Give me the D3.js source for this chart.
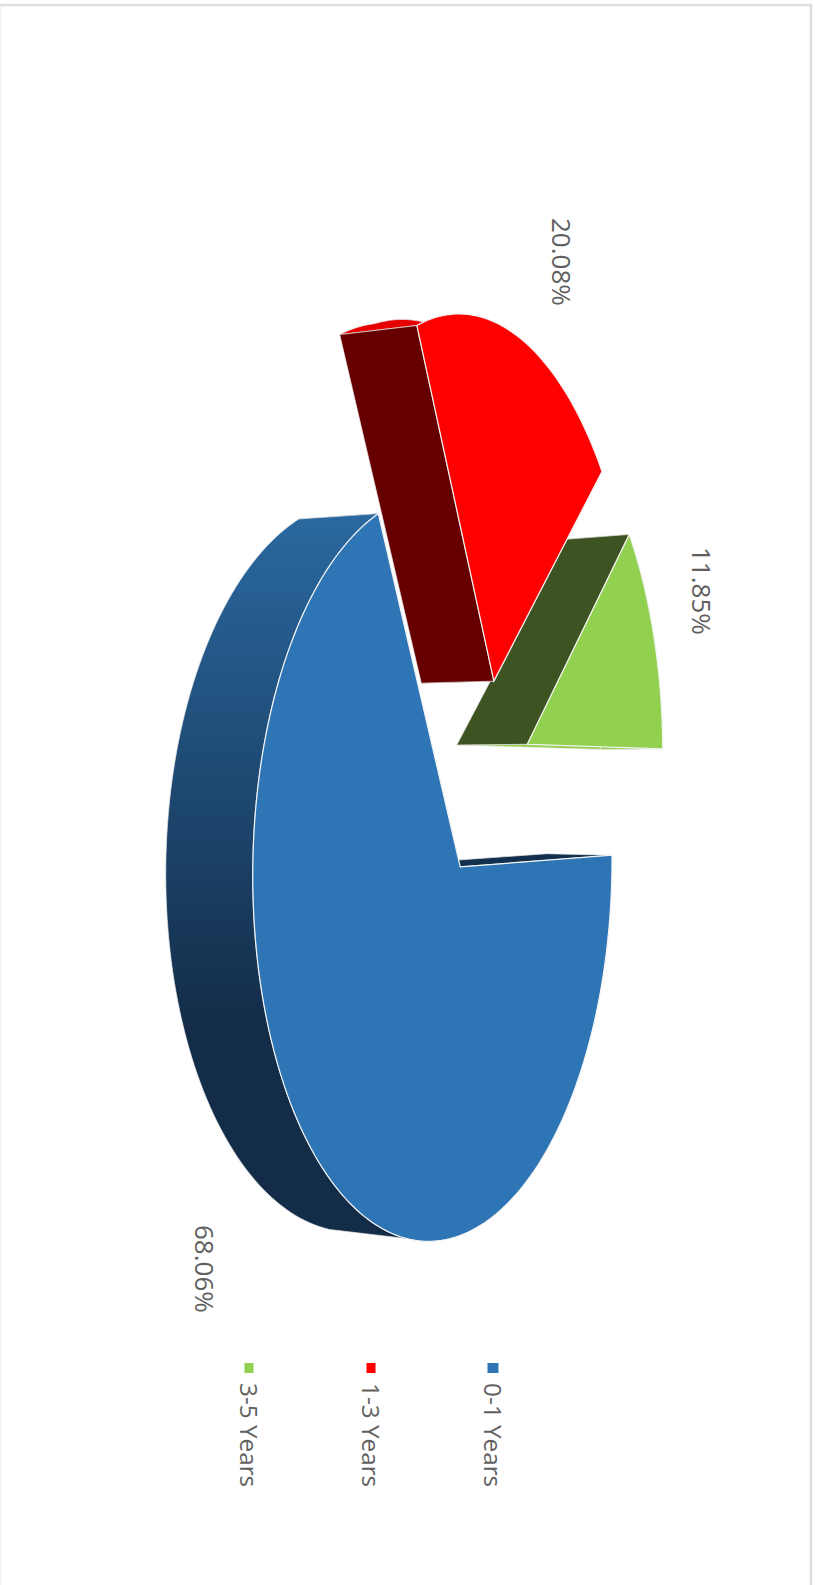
<!DOCTYPE html>
<html>
<head>
<meta charset="utf-8">
<script src="https://cdn.jsdelivr.net/npm/d3@7"></script>
<style>
  html, body { margin: 0; padding: 0; background: #fff; }
  svg { display: block; }
  text { font-family: "Open Sans", sans-serif; fill: #606060; }
</style>
</head>
<body>
<script>
const categories = ["0-1 Years", "1-3 Years", "3-5 Years"];
const shares = [68.06, 20.08, 11.85];
const shareLabels = ["68.06%", "20.08%", "11.85%"];
const faceColors = ["#2e75b6", "#ff0000", "#92d050"];
const wallColors = ["#12304e", "#660000", "#3d5321"];
const rimColors = ["url(#blueWall)", "#e60000", "#92d050"];

const width = 815, height = 1585;
const svg = d3.select("body").append("svg").attr("width", width).attr("height", height);

// frame of the chart area
svg.append("rect").attr("x", 0).attr("y", 5).attr("width", 811).attr("height", 1585)
  .attr("fill", "#fff").attr("stroke", "#dedede").attr("stroke-width", 2.5);
svg.append("rect").attr("x", 0).attr("y", 6).attr("width", 1).attr("height", 1579).attr("fill", "#f2f2f2");

const grad = svg.append("defs").append("linearGradient").attr("id", "blueWall")
  .attr("gradientUnits", "userSpaceOnUse").attr("x1", 0).attr("x2", 0).attr("y1", 510).attr("y2", 1010);
grad.append("stop").attr("offset", 0).attr("stop-color", "#2a689f");
grad.append("stop").attr("offset", 1).attr("stop-color", "#132d49");

const chart = svg.append("g").attr("transform", "scale(1.0115)");

// pie plane -> screen, the chart was exported lying on its side with some perspective
function project(p, q) {
  const w = 1 + 0.155 * p + 0.005 * q;
  return [(455 + 243.8 * p + 6 * q) / w, (857 + 117 * p + 369 * q) / w];
}
// pie thickness, a bit larger on the left of the picture
function drop(pt) {
  return [pt[0] - 74 + (pt[0] - 450) * 0.06, pt[1] + (772 - pt[1]) * 0.02];
}

const slices = d3.pie().sort(null)
  .startAngle(0.4 * Math.PI / 180)
  .endAngle(360.4 * Math.PI / 180)(shares);

const explode = 0.28;
const line = d3.line();
const first = slices[0];
const baseMid = (first.startAngle + first.endAngle) / 2;
// the outer wall only shows from here on, the lower edge of the big slice runs straight
const wallFrom = [108 * Math.PI / 180, 0, 0];
// the far rim of the red slice climbs towards the face instead of curling back
const rimLift = [0, 0.2, 0];

function rimPoints(d, from) {
  const mid = (d.startAngle + d.endAngle) / 2;
  const ox = explode * (Math.cos(mid) - Math.cos(baseMid));
  const oy = explode * (Math.sin(mid) - Math.sin(baseMid));
  const a0 = Math.max(d.startAngle, from);
  const n = Math.ceil((d.endAngle - a0) * 40);
  return d3.range(n + 1).map(i => {
    const a = a0 + (d.endAngle - a0) * i / n;
    return project(ox + Math.cos(a), oy + Math.sin(a));
  });
}
function apexPoint(d) {
  const mid = (d.startAngle + d.endAngle) / 2;
  return project(explode * (Math.cos(mid) - Math.cos(baseMid)), explode * (Math.sin(mid) - Math.sin(baseMid)));
}

// blue first, then green, red sits on top of both
[0, 2, 1].forEach(i => {
  const apex = apexPoint(slices[i]);
  const rim = rimPoints(slices[i], 0);
  const wallTop = rimPoints(slices[i], wallFrom[i]);
  const wallLow = wallTop.map(drop).map(p => [p[0], p[1] - Math.max(0, p[0] - 370) * rimLift[i]]);
  const lowApex = drop(apex);
  const last = rim.length - 1;
  const s = chart.append("g");
  s.append("path").attr("d", line([apex, rim[last], drop(rim[last]), lowApex]) + "Z")
    .attr("fill", faceColors[i]).attr("stroke", "#e8e8e8").attr("stroke-width", 0.7);
  s.append("path").attr("d", line(wallTop.concat(wallLow.slice().reverse())) + "Z")
    .attr("fill", rimColors[i]).attr("stroke", "#e8e8e8").attr("stroke-width", 0.7);
  s.append("path").attr("d", line([apex, rim[0], drop(rim[0]), lowApex]) + "Z")
    .attr("fill", wallColors[i]).attr("stroke", "#e8e8e8").attr("stroke-width", 0.7);
  s.append("path").attr("d", line([apex].concat(rim)) + "Z")
    .attr("fill", faceColors[i]).attr("stroke", "#f4f4f4").attr("stroke-width", 1.2);
});

// everything reads top to bottom
function sideText(x, y, size, str) {
  svg.append("text").attr("transform", `translate(${x},${y}) rotate(90)`)
    .attr("font-size", size).attr("dominant-baseline", "central").text(str);
}
const labelX = [205, 562, 702], labelY = [1225, 218, 547];
shareLabels.forEach((t, i) => sideText(labelX[i], labelY[i], 26, t));

const legendX = [493, 371, 249], legendBoxW = [11, 9, 9];
categories.forEach((c, i) => {
  svg.append("rect").attr("x", legendX[i] - legendBoxW[i] / 2).attr("y", 1363)
    .attr("width", legendBoxW[i]).attr("height", 10).attr("fill", faceColors[i]);
  sideText(legendX[i], 1383, 24.3, c);
});
</script>
</body>
</html>
